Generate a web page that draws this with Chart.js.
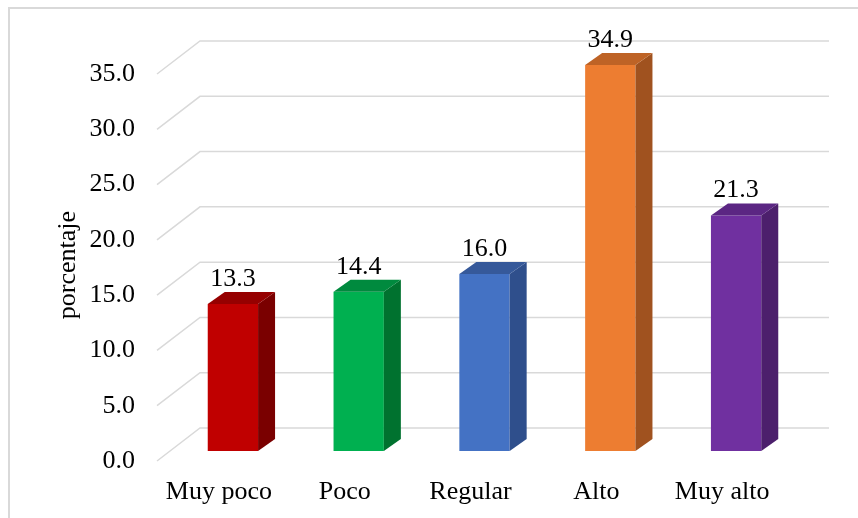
<!DOCTYPE html>
<html>
<head>
<meta charset="utf-8">
<script src="https://cdn.jsdelivr.net/npm/chart.js@4.4.0/dist/chart.umd.min.js"></script>
<style>
  html, body { margin: 0; padding: 0; background: #fff; }
  canvas { display: block; }
</style>
</head>
<body>
<canvas id="chart" width="858" height="518"></canvas>
<script>
const categories = ['Muy poco', 'Poco', 'Regular', 'Alto', 'Muy alto'];
const values = [13.3, 14.4, 16.0, 34.9, 21.3];
const frontColors = ['#C00000', '#00B050', '#4472C4', '#ED7D31', '#7030A0'];
const sideColors = ['#7A0000', '#00722F', '#2F4F8C', '#A0521F', '#4C1F6C'];
const topColors = ['#960000', '#008A3E', '#36599A', '#BE6326', '#5B2683'];
const yAxisTitle = 'porcentaje';

const FONT = '"Liberation Serif", "Times New Roman", serif';
const DX = 17, DY = 12;          // bar depth
const GRID_COLOR = '#d9d9d9';

// fake 3D: perspective gridlines, bar side/top faces, value labels
const bars3d = {
  id: 'bars3d',
  beforeDraw(chart) {
    const ctx = chart.ctx;
    ctx.save();
    ctx.strokeStyle = GRID_COLOR;
    ctx.lineWidth = 2;
    ctx.beginPath();
    ctx.moveTo(9, 540);
    ctx.lineTo(9, 8);
    ctx.lineTo(880, 8);
    ctx.stroke();
    ctx.restore();
  },
  beforeDatasetsDraw(chart) {
    const { ctx, chartArea, scales: { y } } = chart;
    ctx.save();
    ctx.strokeStyle = GRID_COLOR;
    ctx.lineWidth = 1.5;
    y.ticks.forEach(t => {
      const py = y.getPixelForValue(t.value);
      ctx.beginPath();
      ctx.moveTo(chartArea.left - 13, py + 10);
      ctx.lineTo(chartArea.left + 30, py - 23);
      ctx.lineTo(chartArea.right + 30, py - 23);
      ctx.stroke();
    });
    ctx.restore();
  },
  afterDatasetsDraw(chart) {
    const ctx = chart.ctx;
    const meta = chart.getDatasetMeta(0);
    ctx.save();
    meta.data.forEach((bar, i) => {
      const { x, y, base, width } = bar.getProps(['x', 'y', 'base', 'width'], true);
      const l = x - width / 2, r = x + width / 2;
      ctx.fillStyle = sideColors[i];
      ctx.beginPath();
      ctx.moveTo(r, y);
      ctx.lineTo(r + DX, y - DY);
      ctx.lineTo(r + DX, base - DY);
      ctx.lineTo(r, base);
      ctx.closePath();
      ctx.fill();
      ctx.fillStyle = topColors[i];
      ctx.beginPath();
      ctx.moveTo(l, y);
      ctx.lineTo(l + DX, y - DY);
      ctx.lineTo(r + DX, y - DY);
      ctx.lineTo(r, y);
      ctx.closePath();
      ctx.fill();
      ctx.fillStyle = '#000';
      ctx.font = '26px ' + FONT;
      ctx.textAlign = 'center';
      ctx.textBaseline = 'middle';
      ctx.fillText(values[i].toFixed(1), x, y - 25);
    });
    ctx.restore();
  },
  afterDraw(chart) {
    const ctx = chart.ctx;
    ctx.save();
    ctx.translate(68, 265);
    ctx.rotate(-Math.PI / 2);
    ctx.fillStyle = '#000';
    ctx.font = '26px ' + FONT;
    ctx.textAlign = 'center';
    ctx.textBaseline = 'middle';
    ctx.fillText(yAxisTitle, 0, 0);
    ctx.restore();
  }
};

new Chart(document.getElementById('chart'), {
  type: 'bar',
  data: {
    labels: categories,
    datasets: [{
      data: values,
      backgroundColor: frontColors,
      borderWidth: 0,
      barPercentage: 0.8,
      categoryPercentage: 0.5
    }]
  },
  options: {
    responsive: false,
    animation: false,
    layout: { padding: { top: 64, right: 59, bottom: 0, left: 0 } },
    plugins: { legend: { display: false }, tooltip: { enabled: false } },
    scales: {
      x: {
        grid: { display: false },
        border: { display: false },
        ticks: { color: '#000', font: { family: FONT, size: 26 }, padding: 18, labelOffset: -14, maxRotation: 0 },
        afterFit(scale) { scale.height = 67; }
      },
      y: {
        min: 0,
        max: 35,
        grid: { display: false, drawTicks: false },
        border: { display: false },
        ticks: {
          stepSize: 5,
          color: '#000',
          font: { family: FONT, size: 26 },
          padding: 35,
          labelOffset: 10,
          callback: v => v.toFixed(1)
        },
        afterFit(scale) { scale.width = 170; }
      }
    }
  },
  plugins: [bars3d]
});
</script>
</body>
</html>
